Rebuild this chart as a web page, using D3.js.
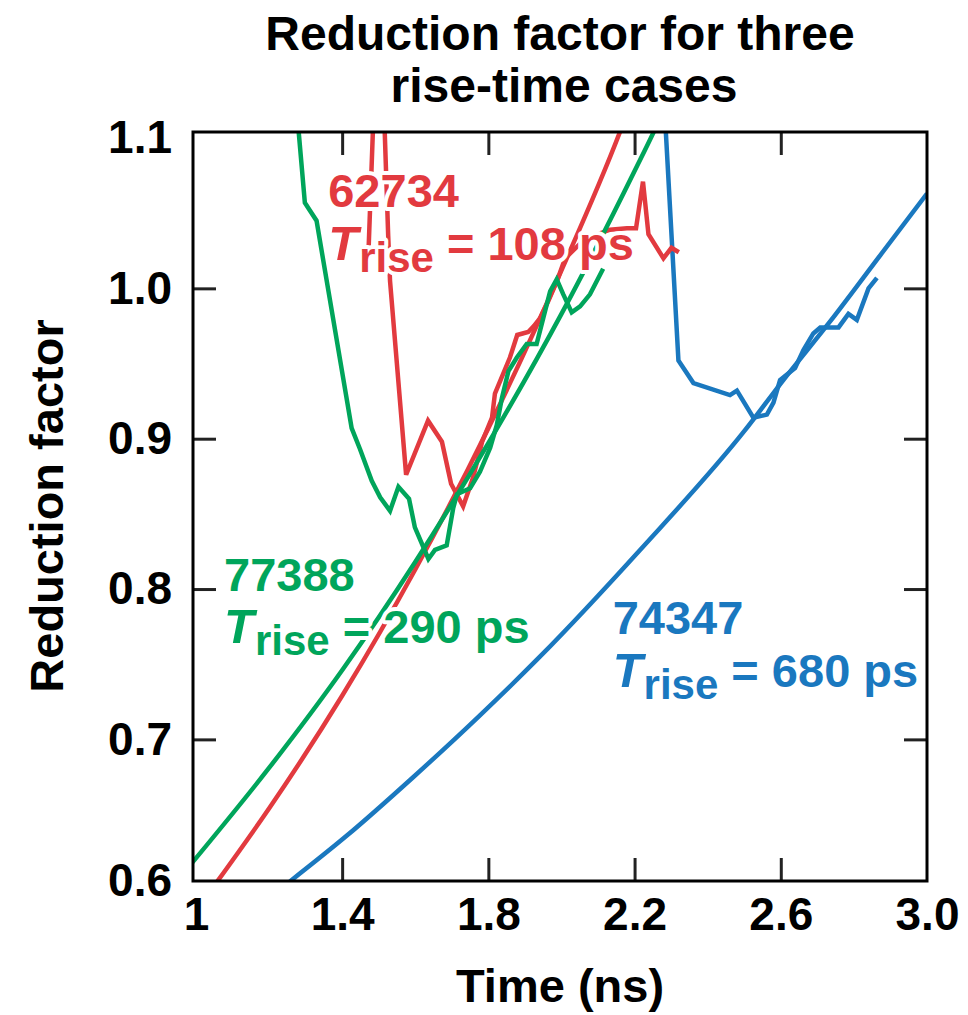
<!DOCTYPE html>
<html><head><meta charset="utf-8">
<script src="https://cdn.jsdelivr.net/npm/d3@7"></script>
<style>
html,body{margin:0;padding:0;background:#fff;}
svg text{font-family:"Liberation Sans",Arial,Helvetica,sans-serif;font-weight:bold;}
</style></head>
<body>
<svg id="chart" width="968" height="1015"></svg>
<script>
// ---- data (time in ns, reduction factor) ----
const xTicks = [1, 1.4, 1.8, 2.2, 2.6, 3.0];
const yTicks = [0.6, 0.7, 0.8, 0.9, 1.0, 1.1];

// shot 62734 (T_rise = 108 ps)
const shot62734Fit = [[1.057,0.605],[1.2,0.654],[1.4,0.729],[1.6,0.813],[1.8,0.907],[2.0,1.012],[2.16,1.104],[2.2,1.13]];
const shot62734Data = [[1.471,1.017],[1.501,1.217],[1.526,1.035],[1.531,1.005],[1.575,0.876],[1.635,0.912],[1.673,0.898],
  [1.698,0.870],[1.731,0.855],[1.758,0.874],[1.783,0.898],[1.810,0.914],[1.818,0.930],[1.859,0.954],[1.879,0.969],
  [1.909,0.971],[1.925,0.975],[1.941,0.980],[1.963,0.991],[1.988,1.005],[2.010,1.020],[2.065,1.033],[2.133,1.039],
  [2.179,1.040],[2.204,1.040],[2.223,1.071],[2.238,1.036],[2.279,1.020],[2.301,1.027],[2.321,1.024]];

// shot 77388 (T_rise = 290 ps)
const shot77388Fit = [[0.99,0.618],[1.2,0.681],[1.4,0.746],[1.6,0.818],[1.8,0.897],[2.0,0.983],[2.2,1.078],[2.26,1.108],[2.3,1.13]];
const shot77388Data = [[1.274,1.124],[1.298,1.057],[1.330,1.045],[1.426,0.907],[1.449,0.893],[1.481,0.872],[1.504,0.861],
  [1.531,0.852],[1.554,0.868],[1.583,0.860],[1.599,0.841],[1.636,0.820],[1.654,0.826],[1.686,0.829],[1.704,0.854],
  [1.714,0.863],[1.750,0.867],[1.777,0.878],[1.805,0.894],[1.823,0.909],[1.837,0.927],[1.855,0.945],[1.878,0.954],
  [1.905,0.963],[1.932,0.963],[1.950,0.980],[1.969,0.998],[1.987,1.006],[2.005,0.996],[2.028,0.984],[2.051,0.988],
  [2.078,0.996],[2.114,1.013]];

// shot 74347 (T_rise = 680 ps)
const shot74347Fit = [[1.257,0.6055],[1.413,0.636],[1.595,0.675],[1.777,0.716],[1.941,0.755],[2.215,0.826],[2.5,0.905],
  [2.607,0.939],[2.735,0.978],[2.872,1.022],[3.0,1.063]];
const shot74347Data = [[2.281,1.124],[2.320,0.952],[2.361,0.937],[2.461,0.929],[2.480,0.932],[2.525,0.914],[2.562,0.916],
  [2.580,0.924],[2.598,0.939],[2.639,0.947],[2.662,0.959],[2.689,0.970],[2.708,0.974],[2.735,0.974],[2.758,0.974],
  [2.785,0.983],[2.808,0.979],[2.840,1.000],[2.863,1.007]];

const labels = [
  {shot:"62734", rise:"108 ps", color:"#e23a3f", x:1.362, y:1.054, y2:1.019},
  {shot:"77388", rise:"290 ps", color:"#00a55b", x:1.077, y:0.799, y2:0.764},
  {shot:"74347", rise:"680 ps", color:"#1a78bf", x:2.14, y:0.770, y2:0.735}
];

// ---- drawing ----
const svg = d3.select("#chart");
const L = 193, R = 927, T = 132, B = 881;
const x = d3.scaleLinear().domain([0.992, 3.0]).range([L, R]);
const y = d3.scaleLinear().domain([0.6058, 1.104]).range([B, T]);

svg.append("defs").append("clipPath").attr("id","clip")
  .append("rect").attr("x",L).attr("y",T).attr("width",R-L).attr("height",B-T);

// title
svg.append("text").attr("x",560).attr("y",50).attr("text-anchor","middle").attr("font-size",48).text("Reduction factor for three");
svg.append("text").attr("x",564).attr("y",102).attr("text-anchor","middle").attr("font-size",48).text("rise-time cases");

const lineLin = d3.line().x(d=>x(d[0])).y(d=>y(d[1]));
const lineSmooth = d3.line().x(d=>x(d[0])).y(d=>y(d[1])).curve(d3.curveMonotoneX);
const gLines = svg.append("g").attr("clip-path","url(#clip)").attr("fill","none").attr("stroke-width",4.5);
const series = [
  [shot74347Fit,"#1a78bf",lineSmooth],[shot74347Data,"#1a78bf",lineLin],
  [shot62734Fit,"#e23a3f",lineSmooth],[shot62734Data,"#e23a3f",lineLin],
  [shot77388Fit,"#00a55b",lineSmooth],[shot77388Data,"#00a55b",lineLin]
];
series.forEach(([d,c,gen])=>gLines.append("path").datum(d).attr("d",gen).attr("stroke",c));

// labels with white halo
labels.forEach(l=>{
  const g = svg.append("g").attr("fill",l.color);
  g.append("text").attr("x",x(l.x)).attr("y",y(l.y)).attr("font-size",47).text(l.shot);
  const t2 = g.append("text").attr("x",x(l.x)).attr("y",y(l.y2)).attr("font-size",47);
  t2.append("tspan").attr("font-style","italic").attr("font-size",49).text("T");
  t2.append("tspan").attr("font-size",42).attr("dy",12).attr("dx",1).text("rise");
  t2.append("tspan").attr("dy",-12).text("\u00a0= " + l.rise);
  g.selectAll("text").attr("stroke","#fff").attr("stroke-width",8).attr("paint-order","stroke").attr("stroke-linejoin","round");
});

// axes
const fmtX = d => d===1 ? "1" : d3.format(".1f")(d);
const xAxis = svg.append("g").attr("transform",`translate(0,${B})`)
  .call(d3.axisBottom(x).tickValues(xTicks).tickSize(-23).tickSizeOuter(0).tickPadding(16).tickFormat(fmtX));
const xTop = svg.append("g").attr("transform",`translate(0,${T})`)
  .call(d3.axisTop(x).tickValues(xTicks.slice(1,-1)).tickSize(-23).tickSizeOuter(0).tickFormat(""));
const yAxis = svg.append("g").attr("transform",`translate(${L},0)`)
  .call(d3.axisLeft(y).tickValues(yTicks).tickSize(-23).tickSizeOuter(0).tickPadding(21).tickFormat(d3.format(".1f")));
const yRight = svg.append("g").attr("transform",`translate(${R},0)`)
  .call(d3.axisRight(y).tickValues(yTicks.slice(1,-1)).tickSize(-23).tickSizeOuter(0).tickFormat(""));

[xAxis,xTop,yAxis,yRight].forEach(a=>{
  a.select(".domain").remove();
  a.selectAll(".tick line").attr("stroke","#222").attr("stroke-width",3);
  a.selectAll("text").attr("font-size",46).attr("fill","#000")
   .attr("font-family","'Liberation Sans',Arial,sans-serif").attr("font-weight","bold");
});
xAxis.selectAll(".tick").filter(d=>d===1||d===3).select("line").remove();
yAxis.selectAll(".tick").filter(d=>d===0.6||d===1.1).select("line").remove();
yAxis.selectAll(".tick").filter(d=>d===0.6).attr("transform",`translate(0,${B})`);

// frame
svg.append("rect").attr("x",L).attr("y",T).attr("width",R-L).attr("height",B-T)
  .attr("fill","none").attr("stroke","#000").attr("stroke-width",3);

// axis titles
svg.append("text").attr("x",560).attr("y",1002).attr("text-anchor","middle").attr("font-size",47).text("Time (ns)");
svg.append("text").attr("transform","translate(63,506) rotate(-90)").attr("text-anchor","middle").attr("font-size",47).text("Reduction factor");
</script>
</body></html>
